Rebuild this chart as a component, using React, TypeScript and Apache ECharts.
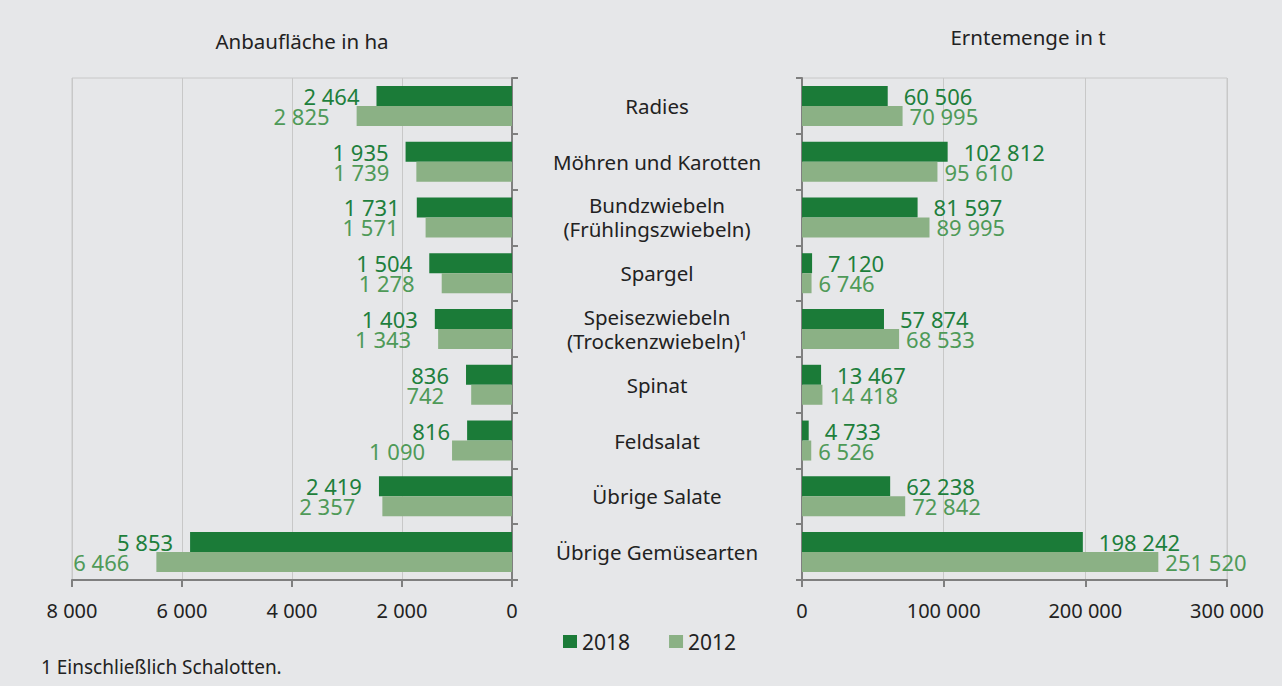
import React, { useEffect, useRef } from "react";
import * as echarts from "echarts";

const categories = [
  "Radies",
  "Möhren und Karotten",
  "Bundzwiebeln\n(Frühlingszwiebeln)",
  "Spargel",
  "Speisezwiebeln\n(Trockenzwiebeln)¹",
  "Spinat",
  "Feldsalat",
  "Übrige Salate",
  "Übrige Gemüsearten",
];
const area2018 = [2464, 1935, 1731, 1504, 1403, 836, 816, 2419, 5853];
const area2012 = [2825, 1739, 1571, 1278, 1343, 742, 1090, 2357, 6466];
const harvest2018 = [60506, 102812, 81597, 7120, 57874, 13467, 4733, 62238, 198242];
const harvest2012 = [70995, 95610, 89995, 6746, 68533, 14418, 6526, 72842, 251520];
const seriesNames = ["2018", "2012"];
const titles = ["Anbaufläche in ha", "Erntemenge in t"];
const footnote = "1 Einschließlich Schalotten.";

const FONT = "'Noto Sans', sans-serif";
const DARK = "#1b7b38";
const LIGHT = "#8bb185";
const DARK_LABEL = "#1e7f3c";
const LIGHT_LABEL = "#4f9a58";
const TEXT = "#222222";
const GRIDC = "#c8c8c8";
const AXISC = "#7f7f7f";

const fmt = (v: number) => String(v).replace(/\B(?=(\d{3})+(?!\d))/g, " ");

export default function App() {
  const ref = useRef<HTMLDivElement>(null);
  useEffect(() => {
    if (!ref.current) return;
    const chart = echarts.init(ref.current, null, { renderer: "svg" });
    const valueAxisCommon = {
      type: "value" as const,
      position: "bottom",
      axisLine: { show: true, lineStyle: { color: AXISC, width: 2 } },
      axisTick: { show: true, length: 7, lineStyle: { color: AXISC, width: 2 } },
      splitLine: { show: true, lineStyle: { color: GRIDC, width: 1 } },
      axisLabel: {
        formatter: (v: number) => fmt(v),
        fontFamily: FONT,
        fontSize: 20,
        color: TEXT,
        margin: 20,
      },
    };
    const catAxisCommon = {
      type: "category" as const,
      data: categories,
      inverse: true,
      axisLine: { show: true, lineStyle: { color: AXISC, width: 2 } },
      axisTick: { show: true, length: 6, lineStyle: { color: AXISC, width: 2 } },
      splitLine: { show: false },
    };
    const labelCommon = {
      show: true,
      fontFamily: FONT,
      fontSize: 22,
      formatter: (p: any) => fmt(p.value),
    };
    chart.setOption({
      animation: false,
      backgroundColor: "#e6e7e9",
      grid: [
        { left: 72, top: 78, width: 440, height: 502, show: true, borderColor: GRIDC, borderWidth: 1, backgroundColor: "transparent" },
        { left: 802, top: 78, width: 425, height: 502, show: true, borderColor: GRIDC, borderWidth: 1, backgroundColor: "transparent" },
      ],
      xAxis: [
        { ...valueAxisCommon, gridIndex: 0, inverse: true, min: 0, max: 8000, interval: 2000 },
        { ...valueAxisCommon, gridIndex: 1, min: 0, max: 300000, interval: 100000 },
      ],
      yAxis: [
        { ...catAxisCommon, gridIndex: 0, position: "right", axisLabel: { show: false } },
        {
          ...catAxisCommon,
          gridIndex: 1,
          position: "left",
          axisLabel: {
            show: true,
            align: "center",
            margin: 145,
            fontFamily: FONT,
            fontSize: 20.5,
            lineHeight: 24,
            color: TEXT,
          },
        },
      ],
      legend: {
        data: seriesNames,
        top: 626,
        left: 558,
        icon: "rect",
        itemWidth: 14,
        itemHeight: 13,
        itemGap: 39,
        textStyle: { fontFamily: FONT, fontSize: 21, color: TEXT },
      },
      series: [
        {
          name: seriesNames[0], type: "bar", xAxisIndex: 0, yAxisIndex: 0, data: area2018,
          barWidth: 20, barGap: "0%", itemStyle: { color: DARK },
          label: { ...labelCommon, position: "left", distance: 17, color: DARK_LABEL },
        },
        {
          name: seriesNames[1], type: "bar", xAxisIndex: 0, yAxisIndex: 0, data: area2012,
          barWidth: 20, barGap: "0%", itemStyle: { color: LIGHT },
          label: { ...labelCommon, position: "left", distance: 27, color: LIGHT_LABEL },
        },
        {
          name: seriesNames[0], type: "bar", xAxisIndex: 1, yAxisIndex: 1, data: harvest2018,
          barWidth: 20, barGap: "0%", itemStyle: { color: DARK },
          label: { ...labelCommon, position: "right", distance: 16, color: DARK_LABEL },
        },
        {
          name: seriesNames[1], type: "bar", xAxisIndex: 1, yAxisIndex: 1, data: harvest2012,
          barWidth: 20, barGap: "0%", itemStyle: { color: LIGHT },
          label: { ...labelCommon, position: "right", distance: 7, color: LIGHT_LABEL },
        },
      ],
      graphic: [
        { type: "text", x: 302, y: 41, style: { text: titles[0], align: "center", verticalAlign: "middle", font: `20.5px ${FONT}`, fill: TEXT } },
        { type: "text", x: 1028, y: 37, style: { text: titles[1], align: "center", verticalAlign: "middle", font: `20.5px ${FONT}`, fill: TEXT } },
        { type: "text", x: 41, y: 667, style: { text: footnote, align: "left", verticalAlign: "middle", font: `19px ${FONT}`, fill: TEXT } },
      ],
    });
    return () => chart.dispose();
  }, []);
  return (
    <div
      ref={ref}
      style={{ position: "fixed", left: 0, top: 0, width: 1282, height: 686 }}
    />
  );
}
